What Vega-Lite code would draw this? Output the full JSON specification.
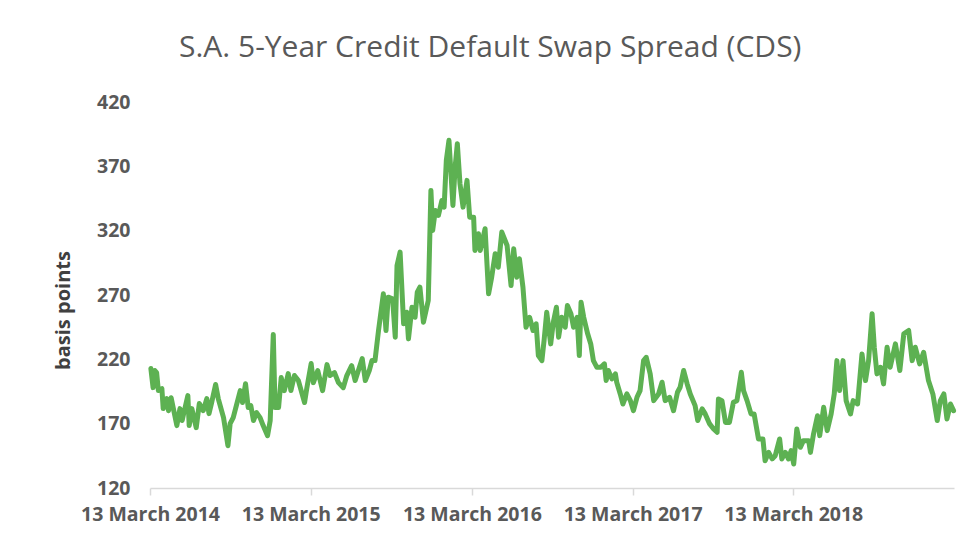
{
  "$schema": "https://vega.github.io/schema/vega-lite/v6.json",
  "width": 804,
  "height": 386,
  "autosize": {"type": "none"},
  "padding": {"left": 150, "top": 102, "right": 5, "bottom": 51},
  "background": "white",
  "title": {
    "text": "S.A. 5-Year Credit Default Swap Spread (CDS)",
    "font": "Open Sans",
    "fontSize": 30,
    "fontWeight": "normal",
    "color": "#595959",
    "anchor": "start",
    "baseline": "alphabetic",
    "offset": 5,
    "dx": 126
  },
  "config": {
    "view": {"stroke": null},
    "axis": {"labelFont": "Open Sans", "titleFont": "Open Sans"}
  },
  "data": {
    "values": [
      {"date": "2014-03-15", "bp": 212.8},
      {"date": "2014-03-20", "bp": 198.0},
      {"date": "2014-03-24", "bp": 211.3},
      {"date": "2014-03-28", "bp": 209.7},
      {"date": "2014-04-01", "bp": 195.7},
      {"date": "2014-04-09", "bp": 197.2},
      {"date": "2014-04-12", "bp": 181.7},
      {"date": "2014-04-20", "bp": 189.5},
      {"date": "2014-04-24", "bp": 180.1},
      {"date": "2014-04-30", "bp": 190.2},
      {"date": "2014-05-13", "bp": 168.5},
      {"date": "2014-05-20", "bp": 181.7},
      {"date": "2014-05-25", "bp": 172.4},
      {"date": "2014-05-30", "bp": 180.1},
      {"date": "2014-06-07", "bp": 191.8},
      {"date": "2014-06-10", "bp": 168.5},
      {"date": "2014-06-16", "bp": 181.7},
      {"date": "2014-06-26", "bp": 166.9},
      {"date": "2014-07-03", "bp": 185.6},
      {"date": "2014-07-12", "bp": 180.1},
      {"date": "2014-07-20", "bp": 189.5},
      {"date": "2014-07-25", "bp": 177.8},
      {"date": "2014-07-31", "bp": 186.4},
      {"date": "2014-08-09", "bp": 200.4},
      {"date": "2014-08-15", "bp": 189.5},
      {"date": "2014-08-27", "bp": 174.7},
      {"date": "2014-09-06", "bp": 152.9},
      {"date": "2014-09-11", "bp": 170.0},
      {"date": "2014-09-18", "bp": 174.7},
      {"date": "2014-10-04", "bp": 195.7},
      {"date": "2014-10-09", "bp": 186.4},
      {"date": "2014-10-16", "bp": 201.1},
      {"date": "2014-10-22", "bp": 182.5},
      {"date": "2014-10-28", "bp": 184.0},
      {"date": "2014-11-03", "bp": 172.4},
      {"date": "2014-11-10", "bp": 178.6},
      {"date": "2014-11-18", "bp": 174.7},
      {"date": "2014-11-25", "bp": 168.5},
      {"date": "2014-12-05", "bp": 160.7},
      {"date": "2014-12-11", "bp": 172.4},
      {"date": "2014-12-18", "bp": 239.3},
      {"date": "2014-12-22", "bp": 182.5},
      {"date": "2014-12-30", "bp": 182.5},
      {"date": "2015-01-05", "bp": 205.8},
      {"date": "2015-01-12", "bp": 195.7},
      {"date": "2015-01-21", "bp": 208.9},
      {"date": "2015-01-27", "bp": 195.7},
      {"date": "2015-02-04", "bp": 207.4},
      {"date": "2015-02-13", "bp": 203.5},
      {"date": "2015-02-27", "bp": 186.4},
      {"date": "2015-03-04", "bp": 197.2},
      {"date": "2015-03-14", "bp": 216.7},
      {"date": "2015-03-19", "bp": 201.9},
      {"date": "2015-03-29", "bp": 211.3},
      {"date": "2015-04-09", "bp": 195.7},
      {"date": "2015-04-19", "bp": 215.9},
      {"date": "2015-04-26", "bp": 207.4},
      {"date": "2015-05-06", "bp": 209.7},
      {"date": "2015-05-15", "bp": 201.9},
      {"date": "2015-05-26", "bp": 198.0},
      {"date": "2015-06-03", "bp": 207.4},
      {"date": "2015-06-14", "bp": 215.1},
      {"date": "2015-06-22", "bp": 203.5},
      {"date": "2015-07-08", "bp": 220.6},
      {"date": "2015-07-15", "bp": 203.5},
      {"date": "2015-07-24", "bp": 211.3},
      {"date": "2015-07-30", "bp": 219.0},
      {"date": "2015-08-06", "bp": 219.0},
      {"date": "2015-08-14", "bp": 242.4},
      {"date": "2015-08-25", "bp": 270.9},
      {"date": "2015-08-31", "bp": 242.4},
      {"date": "2015-09-05", "bp": 268.3},
      {"date": "2015-09-15", "bp": 267.0},
      {"date": "2015-09-21", "bp": 237.2},
      {"date": "2015-09-25", "bp": 292.9},
      {"date": "2015-10-02", "bp": 303.3},
      {"date": "2015-10-10", "bp": 247.6},
      {"date": "2015-10-17", "bp": 256.6},
      {"date": "2015-10-21", "bp": 235.9},
      {"date": "2015-10-29", "bp": 260.5},
      {"date": "2015-11-05", "bp": 252.7},
      {"date": "2015-11-10", "bp": 272.2},
      {"date": "2015-11-16", "bp": 276.1},
      {"date": "2015-11-24", "bp": 248.8},
      {"date": "2015-12-05", "bp": 265.7},
      {"date": "2015-12-11", "bp": 351.3},
      {"date": "2015-12-15", "bp": 320.2},
      {"date": "2015-12-21", "bp": 335.7},
      {"date": "2015-12-28", "bp": 331.8},
      {"date": "2016-01-05", "bp": 343.5},
      {"date": "2016-01-10", "bp": 338.3},
      {"date": "2016-01-15", "bp": 374.6},
      {"date": "2016-01-21", "bp": 390.2},
      {"date": "2016-01-30", "bp": 339.6},
      {"date": "2016-02-04", "bp": 369.4},
      {"date": "2016-02-09", "bp": 387.6},
      {"date": "2016-02-15", "bp": 356.5},
      {"date": "2016-02-22", "bp": 338.3},
      {"date": "2016-03-02", "bp": 359.1},
      {"date": "2016-03-08", "bp": 330.5},
      {"date": "2016-03-17", "bp": 330.5},
      {"date": "2016-03-20", "bp": 304.6},
      {"date": "2016-03-28", "bp": 317.6},
      {"date": "2016-04-01", "bp": 304.6},
      {"date": "2016-04-12", "bp": 321.5},
      {"date": "2016-04-20", "bp": 270.9},
      {"date": "2016-04-27", "bp": 283.8},
      {"date": "2016-05-05", "bp": 302.1},
      {"date": "2016-05-12", "bp": 291.6},
      {"date": "2016-05-20", "bp": 318.9},
      {"date": "2016-06-01", "bp": 308.5},
      {"date": "2016-06-10", "bp": 277.4},
      {"date": "2016-06-16", "bp": 305.9},
      {"date": "2016-06-23", "bp": 283.8},
      {"date": "2016-06-29", "bp": 298.2},
      {"date": "2016-07-07", "bp": 276.1},
      {"date": "2016-07-14", "bp": 244.9},
      {"date": "2016-07-22", "bp": 252.7},
      {"date": "2016-07-30", "bp": 242.4},
      {"date": "2016-08-06", "bp": 247.6},
      {"date": "2016-08-11", "bp": 222.9},
      {"date": "2016-08-19", "bp": 219.0},
      {"date": "2016-08-24", "bp": 234.6},
      {"date": "2016-08-30", "bp": 256.6},
      {"date": "2016-09-08", "bp": 232.0},
      {"date": "2016-09-14", "bp": 248.8},
      {"date": "2016-09-21", "bp": 260.5},
      {"date": "2016-09-26", "bp": 237.2},
      {"date": "2016-10-03", "bp": 252.7},
      {"date": "2016-10-11", "bp": 244.9},
      {"date": "2016-10-16", "bp": 261.8},
      {"date": "2016-10-24", "bp": 255.4},
      {"date": "2016-10-30", "bp": 244.9},
      {"date": "2016-11-07", "bp": 252.7},
      {"date": "2016-11-12", "bp": 222.9},
      {"date": "2016-11-16", "bp": 264.4},
      {"date": "2016-11-22", "bp": 252.7},
      {"date": "2016-12-01", "bp": 239.8},
      {"date": "2016-12-08", "bp": 232.0},
      {"date": "2016-12-14", "bp": 219.0},
      {"date": "2016-12-22", "bp": 213.8},
      {"date": "2016-12-31", "bp": 213.8},
      {"date": "2017-01-08", "bp": 216.5},
      {"date": "2017-01-12", "bp": 203.5},
      {"date": "2017-01-17", "bp": 211.3},
      {"date": "2017-01-25", "bp": 204.8},
      {"date": "2017-02-02", "bp": 208.7},
      {"date": "2017-02-05", "bp": 202.2},
      {"date": "2017-02-13", "bp": 193.1},
      {"date": "2017-02-19", "bp": 185.3},
      {"date": "2017-02-28", "bp": 193.1},
      {"date": "2017-03-08", "bp": 187.9},
      {"date": "2017-03-15", "bp": 180.1},
      {"date": "2017-03-23", "bp": 190.5},
      {"date": "2017-03-30", "bp": 195.7},
      {"date": "2017-04-07", "bp": 219.0},
      {"date": "2017-04-13", "bp": 221.6},
      {"date": "2017-04-22", "bp": 208.7},
      {"date": "2017-04-30", "bp": 187.9},
      {"date": "2017-05-11", "bp": 193.1},
      {"date": "2017-05-19", "bp": 202.2},
      {"date": "2017-05-26", "bp": 187.9},
      {"date": "2017-06-05", "bp": 190.5},
      {"date": "2017-06-14", "bp": 180.1},
      {"date": "2017-06-23", "bp": 194.4},
      {"date": "2017-06-29", "bp": 198.3},
      {"date": "2017-07-07", "bp": 211.3},
      {"date": "2017-07-15", "bp": 200.9},
      {"date": "2017-07-22", "bp": 193.1},
      {"date": "2017-08-02", "bp": 184.0},
      {"date": "2017-08-08", "bp": 172.4},
      {"date": "2017-08-18", "bp": 181.5},
      {"date": "2017-08-25", "bp": 177.6},
      {"date": "2017-09-04", "bp": 169.8},
      {"date": "2017-09-13", "bp": 165.9},
      {"date": "2017-09-21", "bp": 163.3},
      {"date": "2017-09-24", "bp": 189.2},
      {"date": "2017-10-02", "bp": 187.9},
      {"date": "2017-10-10", "bp": 171.0},
      {"date": "2017-10-19", "bp": 171.0},
      {"date": "2017-10-28", "bp": 186.6},
      {"date": "2017-11-05", "bp": 187.9},
      {"date": "2017-11-15", "bp": 209.9},
      {"date": "2017-11-20", "bp": 195.7},
      {"date": "2017-11-28", "bp": 187.9},
      {"date": "2017-12-07", "bp": 177.6},
      {"date": "2017-12-14", "bp": 177.6},
      {"date": "2017-12-24", "bp": 158.1},
      {"date": "2018-01-03", "bp": 158.1},
      {"date": "2018-01-08", "bp": 141.2},
      {"date": "2018-01-16", "bp": 147.7},
      {"date": "2018-01-24", "bp": 142.6},
      {"date": "2018-01-31", "bp": 145.1},
      {"date": "2018-02-10", "bp": 158.1},
      {"date": "2018-02-15", "bp": 142.6},
      {"date": "2018-02-23", "bp": 147.7},
      {"date": "2018-03-02", "bp": 142.6},
      {"date": "2018-03-08", "bp": 149.0},
      {"date": "2018-03-14", "bp": 138.7},
      {"date": "2018-03-21", "bp": 165.9},
      {"date": "2018-03-29", "bp": 151.6},
      {"date": "2018-04-05", "bp": 156.8},
      {"date": "2018-04-17", "bp": 156.8},
      {"date": "2018-04-21", "bp": 147.7},
      {"date": "2018-04-28", "bp": 162.0},
      {"date": "2018-05-07", "bp": 176.2},
      {"date": "2018-05-12", "bp": 160.7},
      {"date": "2018-05-21", "bp": 182.7},
      {"date": "2018-05-29", "bp": 164.6},
      {"date": "2018-06-07", "bp": 177.6},
      {"date": "2018-06-14", "bp": 193.1},
      {"date": "2018-06-20", "bp": 219.0},
      {"date": "2018-06-26", "bp": 195.7},
      {"date": "2018-07-04", "bp": 219.0},
      {"date": "2018-07-11", "bp": 187.9},
      {"date": "2018-07-21", "bp": 177.6},
      {"date": "2018-07-27", "bp": 187.9},
      {"date": "2018-08-06", "bp": 185.3},
      {"date": "2018-08-16", "bp": 224.2},
      {"date": "2018-08-24", "bp": 203.5},
      {"date": "2018-08-31", "bp": 219.0},
      {"date": "2018-09-08", "bp": 255.4},
      {"date": "2018-09-13", "bp": 229.4},
      {"date": "2018-09-19", "bp": 208.7},
      {"date": "2018-09-27", "bp": 213.8},
      {"date": "2018-10-04", "bp": 200.9},
      {"date": "2018-10-12", "bp": 229.4},
      {"date": "2018-10-19", "bp": 213.8},
      {"date": "2018-10-31", "bp": 232.0},
      {"date": "2018-11-10", "bp": 211.3},
      {"date": "2018-11-19", "bp": 239.8},
      {"date": "2018-11-30", "bp": 242.4},
      {"date": "2018-12-08", "bp": 219.0},
      {"date": "2018-12-15", "bp": 229.4},
      {"date": "2018-12-25", "bp": 216.5},
      {"date": "2019-01-03", "bp": 225.5},
      {"date": "2019-01-14", "bp": 203.5},
      {"date": "2019-01-24", "bp": 193.1},
      {"date": "2019-02-03", "bp": 172.4},
      {"date": "2019-02-10", "bp": 187.9},
      {"date": "2019-02-18", "bp": 193.1},
      {"date": "2019-02-25", "bp": 173.7},
      {"date": "2019-03-05", "bp": 185.3},
      {"date": "2019-03-12", "bp": 180.1}
    ]
  },
  "mark": {"type": "line", "color": "#5db152", "strokeWidth": 5, "strokeJoin": "round", "strokeCap": "round"},
  "encoding": {
    "x": {
      "field": "date",
      "type": "temporal",
      "scale": {
        "type": "utc",
        "domain": [
          {"year": 2014, "month": 3, "date": 13, "utc": true},
          {"year": 2019, "month": 3, "date": 13, "utc": true}
        ]
      },
      "axis": {
        "title": null,
        "values": [
          {"year": 2014, "month": 3, "date": 13, "utc": true},
          {"year": 2015, "month": 3, "date": 13, "utc": true},
          {"year": 2016, "month": 3, "date": 13, "utc": true},
          {"year": 2017, "month": 3, "date": 13, "utc": true},
          {"year": 2018, "month": 3, "date": 13, "utc": true}
        ],
        "format": "%-d %B %Y",
        "grid": false,
        "domainColor": "#d9d9d9",
        "domainWidth": 1.5,
        "tickColor": "#d9d9d9",
        "tickWidth": 1.5,
        "tickSize": 7,
        "labelFontSize": 19.5,
        "labelFontWeight": "bold",
        "labelColor": "#595959",
        "labelPadding": 10,
        "labelFlush": false,
        "labelOverlap": false
      }
    },
    "y": {
      "field": "bp",
      "type": "quantitative",
      "scale": {"domain": [120, 420], "zero": false, "nice": false},
      "axis": {
        "title": "basis points",
        "values": [120, 170, 220, 270, 320, 370, 420],
        "grid": false,
        "domain": false,
        "ticks": false,
        "labelPadding": 20,
        "labelFontSize": 19.5,
        "labelFontWeight": "bold",
        "labelColor": "#595959",
        "titleFontSize": 20,
        "titleFontWeight": "bold",
        "titleColor": "#404040",
        "titleX": -87,
        "titleY": 208,
        "titleAlign": "center",
        "titleBaseline": "middle",
        "titleAngle": -90
      }
    }
  }
}
